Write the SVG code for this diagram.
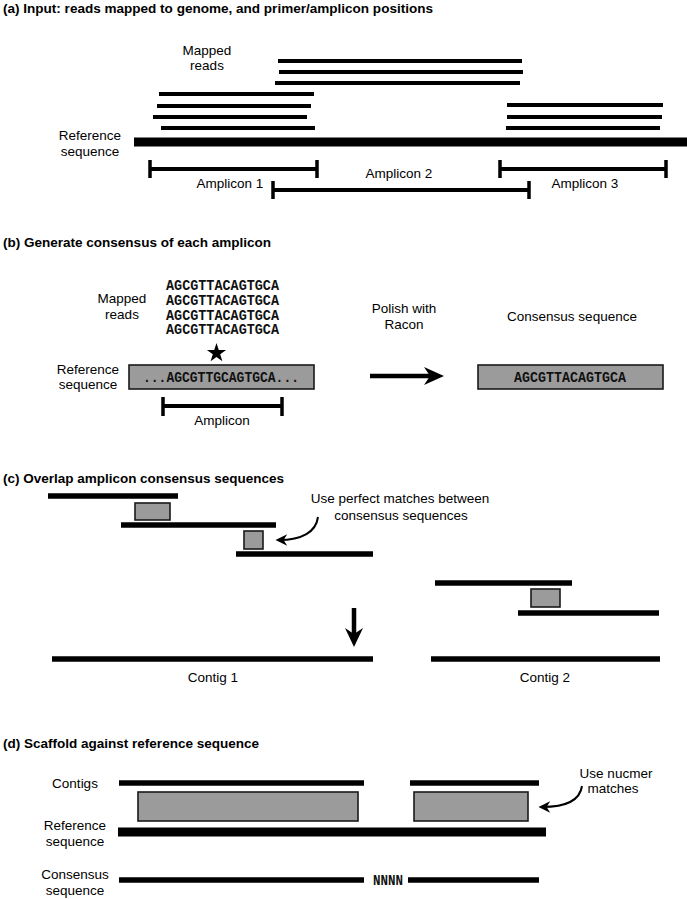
<svg xmlns="http://www.w3.org/2000/svg" width="687" height="899" viewBox="0 0 687 899">
<style>
.t{font-family:"Liberation Sans",Arial,sans-serif;font-weight:bold;font-size:12.5px;fill:#000}
.l{font-family:"Liberation Sans",Arial,sans-serif;font-size:13.5px;fill:#000;text-anchor:middle}
.m{font-family:"Liberation Mono","DejaVu Sans Mono",monospace;font-weight:bold;font-size:14.5px;fill:#111}
.r{stroke:#000;stroke-width:4;fill:none}
.rb{stroke:#000;stroke-width:9;fill:none}
.s{stroke:#000;stroke-width:5.5;fill:none}
.br{stroke:#000;stroke-width:4;fill:none}
.tk{stroke:#000;stroke-width:3.5;fill:none}
.g{fill:#9b9b9b;stroke:#1a1a1a;stroke-width:1.6}
.cv{stroke:#000;stroke-width:2;fill:none}
</style>
<defs>
<marker id="ah" markerUnits="userSpaceOnUse" markerWidth="14" markerHeight="14" viewBox="-8 -6 12 12" refX="0" refY="0" orient="auto">
<path d="M3,0 L-7,-5 L-4,0 L-7,5 Z" fill="#000"/>
</marker>
</defs>

<!-- (a) -->
<text class="t" x="3" y="12.5" textLength="430" lengthAdjust="spacingAndGlyphs">(a) Input: reads mapped to genome, and primer/amplicon positions</text>
<g id="a-mapped-label">
<text class="l" x="207" y="55">Mapped</text>
<text class="l" x="207" y="70">reads</text>
</g>
<g id="a-reads-top">
<line class="r" x1="278" y1="61" x2="522" y2="61"/>
<line class="r" x1="279" y1="72" x2="523" y2="72"/>
<line class="r" x1="275" y1="83" x2="520" y2="83"/>
</g>
<g id="a-reads-left">
<line class="r" x1="159" y1="94" x2="314" y2="94"/>
<line class="r" x1="157" y1="106" x2="311" y2="106"/>
<line class="r" x1="153" y1="117" x2="307" y2="117"/>
<line class="r" x1="161" y1="128" x2="315" y2="128"/>
</g>
<g id="a-reads-right">
<line class="r" x1="507" y1="105" x2="663" y2="105"/>
<line class="r" x1="507" y1="117" x2="662" y2="117"/>
<line class="r" x1="506" y1="128" x2="660" y2="128"/>
</g>
<g id="a-reference">
<text class="l" x="90" y="140">Reference</text>
<text class="l" x="90" y="155.5">sequence</text>
<line class="rb" x1="134" y1="142" x2="687" y2="142"/>
</g>
<g id="a-amplicon1">
<line class="br" x1="150" y1="169" x2="317" y2="169"/>
<line class="tk" x1="150" y1="160" x2="150" y2="178"/>
<line class="tk" x1="317" y1="160" x2="317" y2="178"/>
<text class="l" x="230" y="188">Amplicon 1</text>
</g>
<g id="a-amplicon2">
<line class="br" x1="273" y1="190" x2="529" y2="190"/>
<line class="tk" x1="273" y1="181" x2="273" y2="199"/>
<line class="tk" x1="529" y1="181" x2="529" y2="199"/>
<text class="l" x="399" y="178">Amplicon 2</text>
</g>
<g id="a-amplicon3">
<line class="br" x1="500" y1="169" x2="666" y2="169"/>
<line class="tk" x1="500" y1="160" x2="500" y2="178"/>
<line class="tk" x1="666" y1="160" x2="666" y2="178"/>
<text class="l" x="585" y="188">Amplicon 3</text>
</g>

<!-- (b) -->
<text class="t" x="3" y="246.5" textLength="268" lengthAdjust="spacingAndGlyphs">(b) Generate consensus of each amplicon</text>
<g id="b-mapped-reads">
<text class="l" x="122" y="303">Mapped</text>
<text class="l" x="122" y="319">reads</text>
<text class="m" x="166" y="290" textLength="113" lengthAdjust="spacingAndGlyphs">AGCGTTACAGTGCA</text>
<text class="m" x="166" y="305" textLength="113" lengthAdjust="spacingAndGlyphs">AGCGTTACAGTGCA</text>
<text class="m" x="166" y="319.5" textLength="113" lengthAdjust="spacingAndGlyphs">AGCGTTACAGTGCA</text>
<text class="m" x="166" y="334" textLength="113" lengthAdjust="spacingAndGlyphs">AGCGTTACAGTGCA</text>
</g>
<g id="b-star">
<polygon fill="#000" points="216.5,343 218.8,350 226.1,350 220.2,354.3 222.4,361.3 216.5,357 210.6,361.3 212.8,354.3 206.9,350 214.2,350"/>
</g>
<g id="b-reference">
<text class="l" x="88" y="374">Reference</text>
<text class="l" x="88" y="389">sequence</text>
<rect class="g" x="129" y="365" width="185" height="24"/>
<text class="m" x="221" y="382" text-anchor="middle" textLength="156" lengthAdjust="spacingAndGlyphs">...AGCGTTGCAGTGCA...</text>
</g>
<g id="b-amplicon">
<line class="br" x1="163" y1="406" x2="282" y2="406"/>
<line class="tk" x1="163" y1="397" x2="163" y2="416"/>
<line class="tk" x1="282" y1="397" x2="282" y2="416"/>
<text class="l" x="222" y="424.5">Amplicon</text>
</g>
<g id="b-polish">
<text class="l" x="404" y="313">Polish with</text>
<text class="l" x="404" y="329">Racon</text>
</g>
<g id="b-consensus">
<text class="l" x="572" y="321">Consensus sequence</text>
<rect class="g" x="478" y="365" width="185" height="24"/>
<text class="m" x="570" y="382" text-anchor="middle" textLength="112" lengthAdjust="spacingAndGlyphs">AGCGTTACAGTGCA</text>
</g>

<!-- (c) -->
<text class="t" x="3" y="482.5" textLength="281" lengthAdjust="spacingAndGlyphs">(c) Overlap amplicon consensus sequences</text>
<g id="c-seq1">
<line class="s" x1="48" y1="496" x2="178" y2="496"/>
</g>
<g id="c-match1">
<rect class="g" x="135" y="503" width="35" height="17"/>
</g>
<g id="c-seq2">
<line class="s" x1="121" y1="525" x2="276" y2="525"/>
</g>
<g id="c-match2">
<rect class="g" x="244" y="531" width="19" height="18"/>
</g>
<g id="c-seq3">
<line class="s" x1="236" y1="554" x2="373" y2="554"/>
</g>
<g id="c-note">
<text class="l" x="400" y="503">Use perfect matches between</text>
<text class="l" x="401" y="520">consensus sequences</text>
</g>
<g id="c-seq4">
<line class="s" x1="435" y1="583" x2="572" y2="583"/>
</g>
<g id="c-match3">
<rect class="g" x="531" y="589" width="29" height="18"/>
</g>
<g id="c-seq5">
<line class="s" x1="518" y1="613" x2="659" y2="613"/>
</g>
<g id="c-contig1">
<line class="s" x1="52" y1="659" x2="373" y2="659"/>
<text class="l" x="213" y="682">Contig 1</text>
</g>
<g id="c-contig2">
<line class="s" x1="431" y1="659" x2="660" y2="659"/>
<text class="l" x="545" y="682">Contig 2</text>
</g>

<!-- (d) -->
<text class="t" x="3" y="747.5" textLength="256" lengthAdjust="spacingAndGlyphs">(d) Scaffold against reference sequence</text>
<g id="d-contigs">
<text class="l" x="75" y="788">Contigs</text>
<line class="s" x1="119" y1="783" x2="364" y2="783"/>
<line class="s" x1="410" y1="783" x2="539" y2="783"/>
</g>
<g id="d-matches">
<rect class="g" x="138" y="792" width="220" height="29"/>
<rect class="g" x="414" y="792" width="114" height="29"/>
</g>
<g id="d-note">
<text class="l" x="616" y="778">Use nucmer</text>
<text class="l" x="613" y="793">matches</text>
</g>
<g id="d-reference">
<text class="l" x="75" y="830">Reference</text>
<text class="l" x="75" y="846">sequence</text>
<line class="rb" x1="118" y1="832" x2="546" y2="832"/>
</g>
<g id="d-consensus">
<text class="l" x="75" y="879">Consensus</text>
<text class="l" x="75" y="895">sequence</text>
<line class="s" x1="119" y1="880" x2="364" y2="880"/>
<line class="s" x1="408" y1="880" x2="539" y2="880"/>
<text class="m" x="388" y="885" text-anchor="middle" font-size="13" textLength="30" lengthAdjust="spacingAndGlyphs">NNNN</text>
</g>

<!-- connectors -->
<g id="connectors">
<path d="M370,376 L432,376" stroke="#000" stroke-width="4.5" fill="none"/>
<path d="M444,376 L424,367 L430,376 L424,385 Z" fill="#000"/>
<path d="M354,608 L354,636" stroke="#000" stroke-width="4.5" fill="none"/>
<path d="M354,647 L345,628 L354,634 L363,628 Z" fill="#000"/>
<path class="cv" d="M318,517 C316,532 302,540 279,540" marker-end="url(#ah)"/>
<path class="cv" d="M582,786 C580,800 566,807 542,807" marker-end="url(#ah)"/>
</g>
</svg>
